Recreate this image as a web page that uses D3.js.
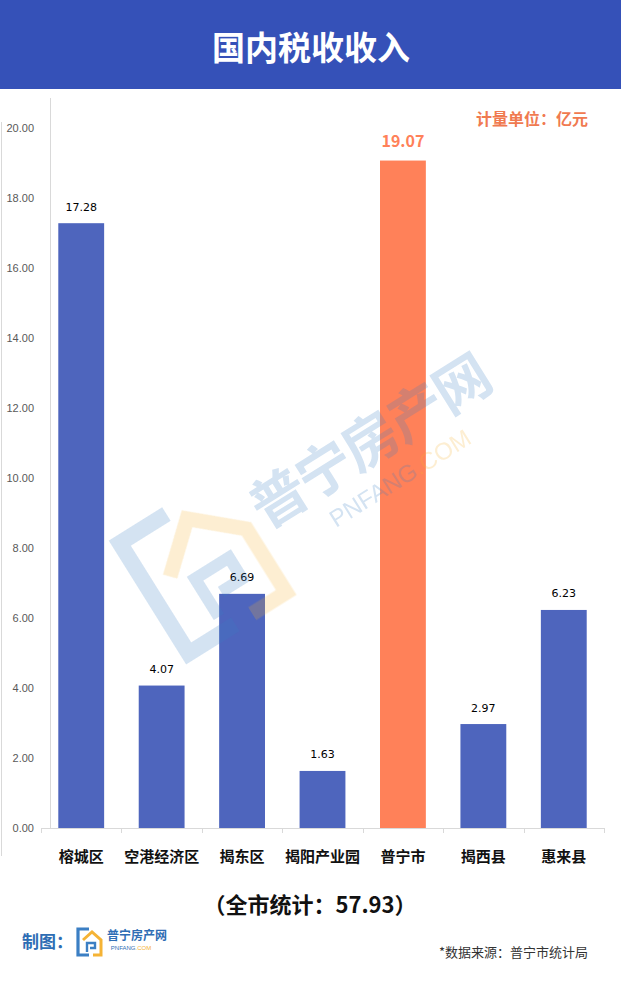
<!DOCTYPE html>
<html><head><meta charset="utf-8">
<script src="https://cdn.jsdelivr.net/npm/d3@7"></script>
<style>html,body{margin:0;padding:0;background:#fff;}svg{display:block;}</style>
</head><body>
<script>
const categories = ['榕城区','空港经济区','揭东区','揭阳产业园','普宁市','揭西县','惠来县'];
const values = [17.28, 4.07, 6.69, 1.63, 19.07, 2.97, 6.23];
const highlight = '普宁市';
const yTickValues = [0,2,4,6,8,10,12,14,16,18,20];
const title = '国内税收收入';
const unitText = '计量单位：亿元';
const totalText = '（全市统计：57.93）';
const sourceText = '*数据来源：普宁市统计局';

const W = 621, H = 983;
const FONT = '"Noto Sans CJK SC","Noto Sans",sans-serif';
const BLUE = '#4e65bd', ORANGE = '#ff8159';

const svg = d3.select('body').append('svg').attr('width', W).attr('height', H)
  .style('font-family', FONT);

// header
svg.append('rect').attr('x',0).attr('y',0).attr('width',W).attr('height',89).attr('fill','#3551b8');
svg.append('text').attr('x',311).attr('y',46).attr('text-anchor','middle').attr('dominant-baseline','central')
  .attr('fill','#fff').attr('font-size',33).attr('font-weight',700).text(title);

const x = d3.scaleBand().domain(categories).range([41, 604]).paddingInner(0.43).paddingOuter(0.215);
const y = d3.scaleLinear().domain([0,20]).range([828,128]);

// frame lines
svg.append('line').attr('x1',1.5).attr('x2',1.5).attr('y1',122).attr('y2',856).attr('stroke','#d9d9d9');
svg.append('line').attr('x1',50.5).attr('x2',50.5).attr('y1',98).attr('y2',828).attr('stroke','#d9d9d9');

// y tick labels
svg.append('g').selectAll('text').data(yTickValues).join('text')
  .attr('x',34).attr('y',d=>y(d)).attr('text-anchor','end').attr('dominant-baseline','central')
  .attr('font-family','"Liberation Sans",Arial,sans-serif').attr('font-size',11).attr('fill','#595959')
  .text(d=>d3.format('.2f')(d));

// x axis
const step = x.step();
const bounds = categories.map(c => x(c) - step*x.paddingInner()/2).concat([x(categories[categories.length-1]) + x.bandwidth() + step*x.paddingInner()/2]);
svg.append('line').attr('x1',x.range()[0]).attr('x2',x.range()[1]).attr('y1',828.5).attr('y2',828.5).attr('stroke','#d9d9d9');
svg.append('g').selectAll('line').data(bounds).join('line')
  .attr('x1',d=>Math.round(d)+0.5).attr('x2',d=>Math.round(d)+0.5).attr('y1',828).attr('y2',833).attr('stroke','#d9d9d9');

// bars
svg.append('g').selectAll('rect').data(categories).join('rect')
  .attr('x',c=>x(c)).attr('width',x.bandwidth())
  .attr('y',(c,i)=>y(values[i])).attr('height',(c,i)=>y(0)-y(values[i]))
  .attr('fill',c=>c===highlight?ORANGE:BLUE);

// value labels
svg.append('g').selectAll('text').data(categories).join('text')
  .attr('x',c=>x(c)+x.bandwidth()/2)
  .attr('y',(c,i)=>y(values[i]) - (c===highlight?21:16))
  .attr('text-anchor','middle').attr('dominant-baseline','central')
  .attr('font-size',c=>c===highlight?16:11)
  .attr('font-weight',c=>c===highlight?700:400)
  .attr('font-family',c=>c===highlight?FONT:'"DejaVu Sans",sans-serif')
  .attr('fill',c=>c===highlight?ORANGE:'#000')
  .text((c,i)=>d3.format('.2f')(values[i]));

// category labels
svg.append('g').selectAll('text').data(categories).join('text')
  .attr('x',c=>x(c)+x.bandwidth()/2).attr('y',855)
  .attr('text-anchor','middle').attr('dominant-baseline','central')
  .attr('font-size',15).attr('font-weight',700).attr('fill','#111')
  .text(c=>c);

// unit
svg.append('text').attr('x',588).attr('y',118).attr('text-anchor','end').attr('dominant-baseline','central')
  .attr('font-size',16).attr('font-weight',700).attr('fill','#f07a50').text(unitText);

// logo drawing (local box 28 x 30)
function logo(g, s){
  const pts = a => a.map(p=>p.map(v=>v*s).join(',')).join(' ');
  g.append('polyline').attr('points',pts([[13,2],[2,2],[2,28],[13,28]]))
    .attr('fill','none').attr('stroke','#3b7fc4').attr('stroke-width',3.2*s);
  g.append('polyline').attr('points',pts([[7,13],[16,5],[25,13],[25,28],[17,28]]))
    .attr('fill','none').attr('stroke','#f5b335').attr('stroke-width',3*s);
  g.append('polyline').attr('points',pts([[11,25],[11,16],[19,16],[19,21],[14,21]]))
    .attr('fill','none').attr('stroke','#3b7fc4').attr('stroke-width',2.4*s);
}
// watermark
const wm = svg.append('g').attr('opacity',0.22);
logo(wm.append('g').attr('transform','translate(106,540) rotate(-32)'), 5.0);
wm.append('text').attr('transform','translate(266,530) rotate(-32)')
  .attr('font-size',56).attr('font-weight',700).attr('fill','#3b7fc4').attr('letter-spacing',-2).text('普宁房产网');
wm.append('text').attr('transform','translate(336,528) rotate(-32)')
  .attr('font-family','"Liberation Sans",Arial,sans-serif').attr('font-size',24).attr('fill','#3b7fc4')
  .html('PNFANG<tspan fill="#f5b335">.COM</tspan>');

// total
svg.append('text').attr('x',310).attr('y',903).attr('text-anchor','middle').attr('dominant-baseline','central')
  .attr('font-size',22).attr('font-weight',700).attr('fill','#111').text(totalText);

// footer
svg.append('text').attr('x',22).attr('y',940).attr('dominant-baseline','central')
  .attr('font-size',17).attr('font-weight',700).attr('fill','#2e6db4').text('制图：');
logo(svg.append('g').attr('transform','translate(76,927)'), 1.0);
svg.append('text').attr('x',107).attr('y',934).attr('dominant-baseline','central')
  .attr('font-size',12).attr('font-weight',700).attr('fill','#2e6db4').text('普宁房产网');
svg.append('text').attr('x',131).attr('y',948).attr('text-anchor','middle').attr('dominant-baseline','central')
  .attr('font-family','"Liberation Sans",Arial,sans-serif').attr('font-size',6).attr('fill','#2e6db4')
  .html('PNFANG<tspan fill="#f5b335">.COM</tspan>');
svg.append('text').attr('x',588).attr('y',951).attr('text-anchor','end').attr('dominant-baseline','central')
  .attr('font-size',13).attr('fill','#333').text(sourceText);
</script>
</body></html>
